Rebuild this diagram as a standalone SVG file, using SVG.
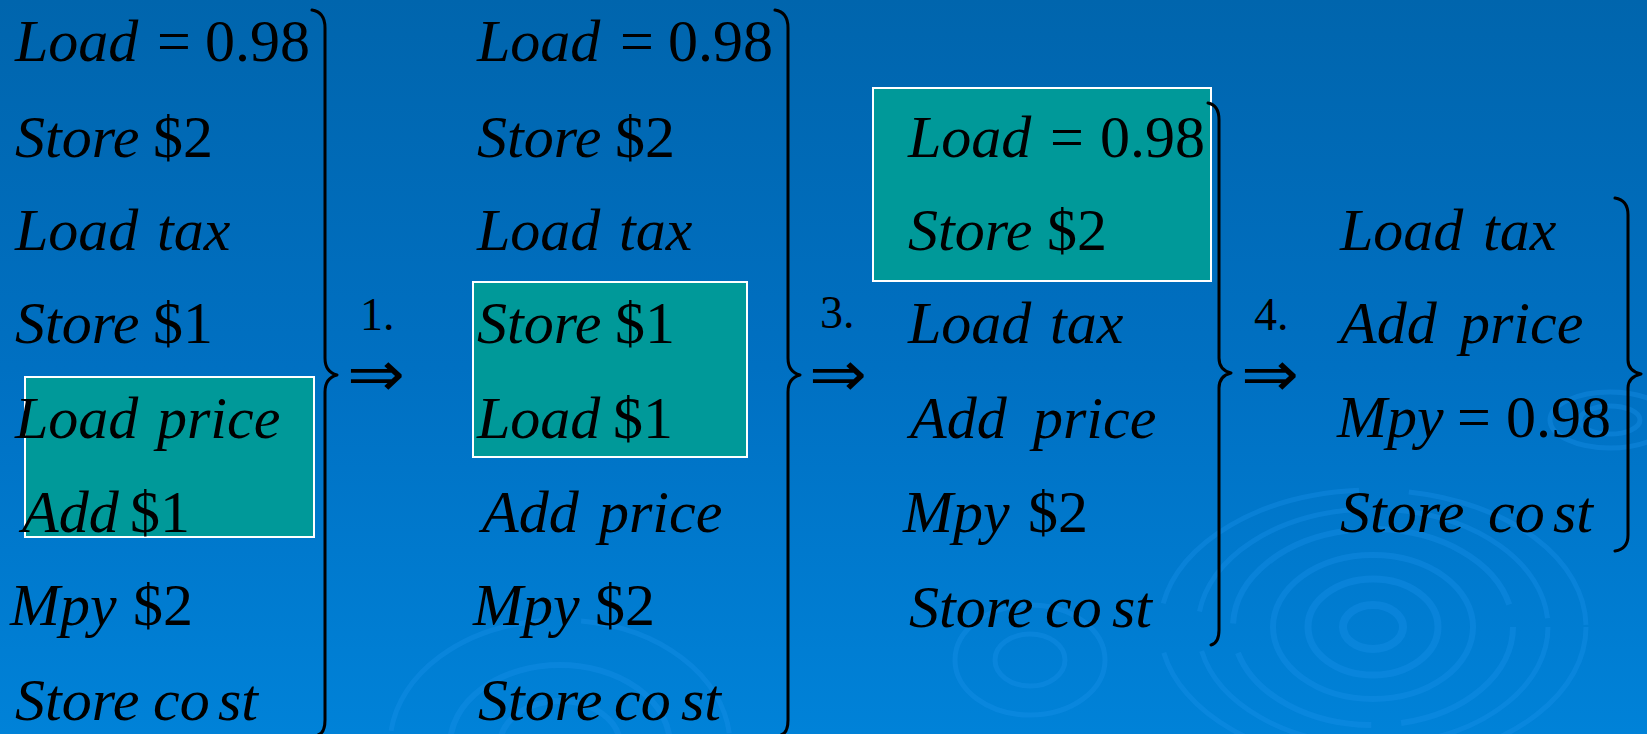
<svg xmlns="http://www.w3.org/2000/svg" width="1647" height="734" viewBox="0 0 1647 734">
<defs>
<linearGradient id="bg" x1="0" y1="0" x2="0" y2="1">
<stop offset="0" stop-color="#0065ad"/>
<stop offset="0.5" stop-color="#0070c2"/>
<stop offset="1" stop-color="#0082d8"/>
</linearGradient>
</defs>
<style>
text{font-family:"Liberation Serif","Times New Roman",serif;font-size:60px;fill:#000}
.i{font-style:italic}
.n{font-size:46px}
.arr{font-family:"DejaVu Sans",sans-serif;font-size:64px}
.box{fill:#009999;stroke:#fff;stroke-width:2}
.brace{fill:none;stroke:#000;stroke-width:3;stroke-linecap:round;stroke-linejoin:round}
.rip{fill:none;stroke:#1a92ea;stroke-opacity:0.35}
</style>
<rect width="1647" height="734" fill="url(#bg)"/>
<g id="ripples">
<ellipse class="rip" cx="1373" cy="627" rx="30" ry="22" stroke-width="8"/>
<ellipse class="rip" cx="1373" cy="627" rx="65" ry="48" stroke-width="7"/>
<ellipse class="rip" cx="1373" cy="627" rx="100" ry="72" stroke-width="6"/>
<ellipse class="rip" cx="1373" cy="627" rx="140" ry="98" stroke-width="6" stroke-dasharray="160 30"/>
<ellipse class="rip" cx="1373" cy="627" rx="175" ry="118" stroke-width="5" stroke-dasharray="200 40"/>
<ellipse class="rip" cx="1373" cy="627" rx="213" ry="137" stroke-width="5" stroke-dasharray="240 50"/>
<ellipse class="rip" cx="560" cy="745" rx="60" ry="44" stroke-width="6"/>
<ellipse class="rip" cx="560" cy="745" rx="110" ry="80" stroke-width="6"/>
<ellipse class="rip" cx="560" cy="745" rx="170" ry="125" stroke-width="5" stroke-dasharray="200 40"/>
<ellipse class="rip" cx="1030" cy="660" rx="35" ry="26" stroke-width="5"/>
<ellipse class="rip" cx="1030" cy="660" rx="75" ry="55" stroke-width="5"/>
<ellipse class="rip" cx="1610" cy="420" rx="30" ry="14" stroke-width="5"/>
<ellipse class="rip" cx="1610" cy="420" rx="60" ry="28" stroke-width="5"/>
</g>
<g id="col1">
<rect class="box" x="25" y="377" width="289" height="160"/>
<text y="61"><tspan class="i" x="15">Load</tspan><tspan x="157">=</tspan><tspan x="205">0.98</tspan></text>
<text y="157"><tspan class="i" x="15">Store</tspan><tspan x="153">$2</tspan></text>
<text y="250"><tspan class="i" x="15">Load</tspan><tspan class="i" x="157">tax</tspan></text>
<text y="343"><tspan class="i" x="15">Store</tspan><tspan x="153">$1</tspan></text>
<text y="438"><tspan class="i" x="15">Load</tspan><tspan class="i" x="157">price</tspan></text>
<text y="532"><tspan class="i" x="22">Add</tspan><tspan x="130">$1</tspan></text>
<text y="625"><tspan class="i" x="10">Mpy</tspan><tspan x="133">$2</tspan></text>
<text y="720"><tspan class="i" x="15">Store</tspan><tspan class="i" x="153">co</tspan><tspan class="i" x="218">st</tspan></text>
</g>
<g id="col2">
<rect class="box" x="473" y="282" width="274" height="175"/>
<text y="61"><tspan class="i" x="477">Load</tspan><tspan x="620">=</tspan><tspan x="668">0.98</tspan></text>
<text y="157"><tspan class="i" x="477">Store</tspan><tspan x="615">$2</tspan></text>
<text y="250"><tspan class="i" x="477">Load</tspan><tspan class="i" x="619">tax</tspan></text>
<text y="343"><tspan class="i" x="477">Store</tspan><tspan x="615">$1</tspan></text>
<text y="438"><tspan class="i" x="477">Load</tspan><tspan x="613">$1</tspan></text>
<text y="532"><tspan class="i" x="482">Add</tspan><tspan class="i" x="599">price</tspan></text>
<text y="625"><tspan class="i" x="473">Mpy</tspan><tspan x="595">$2</tspan></text>
<text y="720"><tspan class="i" x="478">Store</tspan><tspan class="i" x="614">co</tspan><tspan class="i" x="681">st</tspan></text>
</g>
<g id="col3">
<rect class="box" x="873" y="88" width="338" height="193"/>
<text y="157"><tspan class="i" x="908">Load</tspan><tspan x="1050">=</tspan><tspan x="1100">0.98</tspan></text>
<text y="250"><tspan class="i" x="908">Store</tspan><tspan x="1047">$2</tspan></text>
<text y="343"><tspan class="i" x="908">Load</tspan><tspan class="i" x="1050">tax</tspan></text>
<text y="438"><tspan class="i" x="910">Add</tspan><tspan class="i" x="1033">price</tspan></text>
<text y="532"><tspan class="i" x="903">Mpy</tspan><tspan x="1028">$2</tspan></text>
<text y="627"><tspan class="i" x="909">Store</tspan><tspan class="i" x="1045">co</tspan><tspan class="i" x="1112">st</tspan></text>
</g>
<g id="col4">
<text y="250"><tspan class="i" x="1340">Load</tspan><tspan class="i" x="1483">tax</tspan></text>
<text y="343"><tspan class="i" x="1340">Add</tspan><tspan class="i" x="1460">price</tspan></text>
<text y="437"><tspan class="i" x="1337">Mpy</tspan><tspan x="1457">=</tspan><tspan x="1506">0.98</tspan></text>
<text y="532"><tspan class="i" x="1340">Store</tspan><tspan class="i" x="1488">co</tspan><tspan class="i" x="1553">st</tspan></text>
</g>
<g id="connectors">
<path class="brace" d="M312,10 Q325,12 325,28 L325,358 Q325,372 337,375 Q325,378 325,392 L325,720 Q325,733 318,735"/>
<path class="brace" d="M775,10 Q788,12 788,28 L788,358 Q788,372 800,375 Q788,378 788,392 L788,720 Q788,733 781,735"/>
<path class="brace" d="M1208,103 Q1219,105 1219,120 L1219,358 Q1219,370 1231,373 Q1219,376 1219,388 L1219,630 Q1219,643 1211,645"/>
<path class="brace" d="M1615,198 Q1628,200 1628,215 L1628,360 Q1628,371 1641,374 Q1628,377 1628,388 L1628,535 Q1628,549 1615,551"/>
<text class="n" x="360" y="330">1.</text>
<text class="n" x="820" y="328">3.</text>
<text class="n" x="1254" y="330">4.</text>
<text class="arr" x="347" y="396" textLength="58" lengthAdjust="spacingAndGlyphs">⇒</text>
<text class="arr" x="809" y="396" textLength="58" lengthAdjust="spacingAndGlyphs">⇒</text>
<text class="arr" x="1241" y="396" textLength="58" lengthAdjust="spacingAndGlyphs">⇒</text>
</g>
</svg>
